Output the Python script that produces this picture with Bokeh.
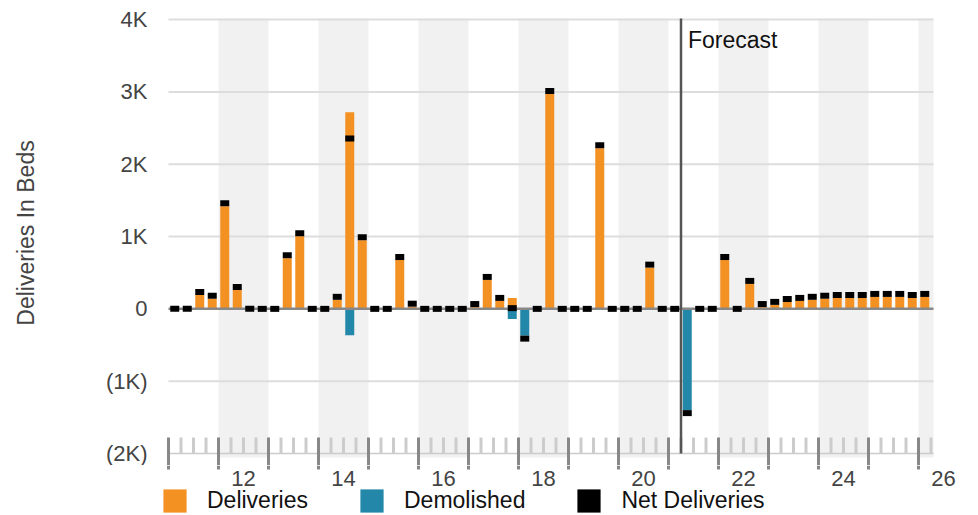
from bokeh.plotting import figure
from bokeh.layouts import column
from bokeh.models import (Range1d, FixedTicker, LinearAxis, Legend, LegendItem,
                          Label, ColumnDataSource)
from bokeh.core.properties import value
from bokeh.embed import file_html
from bokeh.resources import INLINE

# ---------------- data ----------------
years = list(range(2011, 2027))
quarters = [f"{y} Q{q}" for y in years for q in (1, 2, 3, 4)][:61]

deliveries = [0, 0, 190, 140, 1420, 260, 0, 0,
              0, 700, 1005, 0, 0, 125, 2720, 950,
              0, 0, 675, 30, 0, 0, 0, 0,
              25, 400, 110, 150, 0, 0, 2970, 0,
              0, 0, 2220, 0, 0, 0, 570, 0,
              0, 0, 0, 0, 675, 0, 345, 25,
              55, 95, 110, 125, 140, 150, 150, 150,
              165, 165, 165, 150, 165]
demolished = [0, 0, 0, 0, 0, 0, 0, 0,
              0, 0, 0, 0, 0, 0, -365, 0,
              0, 0, 0, 0, 0, 0, 0, 0,
              0, 0, 0, -140, -370, 0, 0, 0,
              0, 0, 0, 0, 0, 0, 0, 0,
              0, -1400, 0, 0, 0, 0, 0, 0,
              0, 0, 0, 0, 0, 0, 0, 0,
              0, 0, 0, 0, 0]
forecast_start = "2021 Q2"

y_ticks = [-2000, -1000, 0, 1000, 2000, 3000, 4000]
y_tick_labels = ["(2K)", "(1K)", "0", "1K", "2K", "3K", "4K"]
label_years = [2012, 2014, 2016, 2018, 2020, 2022, 2024, 2026]
year_labels = ["12", "14", "16", "18", "20", "22", "24", "26"]

# ---------------- layout constants ----------------
FONT = "Liberation Sans"
W, H = 978, 515
CHART_H = 435                    # px between the (2K) line and the 4K-area top
TOP_PAD_PX = 18                  # empty space above the chart area
SPLIT = 12                       # px of the main figure below the (2K) line
H1 = TOP_PAD_PX + CHART_H + SPLIT
H2 = H - H1
BL = 160
PX_PER_Q = 12.5                  # pixels per quarter
CHART_LEFT_PX = 8                # chart area starts 8px inside the frame
Y_AXIS_MIN, Y_TOP = -2000, 4015
upp = (Y_TOP - Y_AXIS_MIN) / CHART_H          # data units per pixel
Y_RANGE_TOP = Y_TOP + TOP_PAD_PX * upp
Y_RANGE_BOTTOM = Y_AXIS_MIN - SPLIT * upp
X_START = -CHART_LEFT_PX / PX_PER_Q
X_END = X_START + (W - BL) / PX_PER_Q
DATA_END = 61.2                  # right edge of the chart area (quarters)
TICK = 16                        # tick length in px

ORANGE = "#F39122"
BLUE = "#2287A8"

n = len(quarters)
xs = [i + 0.5 for i in range(n)]
net = [d + m for d, m in zip(deliveries, demolished)]
net_pos = []
for d, m, v in zip(deliveries, demolished, net):
    if d > 0 and m == 0:
        direction = 1
    elif d == 0 and m < 0:
        direction = -1
    else:
        direction = 0
    net_pos.append(v + direction * 3 * upp)

src = ColumnDataSource(dict(x=xs, q=quarters, deliveries=deliveries,
                            demolished=demolished, net=net, net_pos=net_pos))

x_range = Range1d(X_START, X_END)
p = figure(width=W, height=H1, x_range=x_range,
           y_range=Range1d(Y_RANGE_BOTTOM, Y_RANGE_TOP), output_backend="svg",
           toolbar_location=None, x_axis_location=None, y_axis_location=None,
           min_border_left=BL, min_border_right=0, min_border_top=0,
           min_border_bottom=0)
p.outline_line_color = None
for g in p.grid:
    g.visible = False

year_bounds = [(y - years[0]) * 4 for y in years if (y - years[0]) * 4 <= DATA_END]
quarter_bounds = [i for i in range(1, int(DATA_END) + 1) if i % 4]
band_left = [(y - years[0]) * 4 for y in label_years]
band_right = [min(b + 4, DATA_END) for b in band_left]
label_pos = [(y - years[0]) * 4 + 2 for y in label_years]

# shaded even-year bands
p.quad(left=band_left, right=band_right, bottom=Y_AXIS_MIN - 4 * upp, top=Y_TOP,
       fill_color="#F1F1F1", line_color=None)

# horizontal grid lines (chart area only)
grid_y = [t for t in y_ticks if t not in (Y_AXIS_MIN, 0)]
p.segment(x0=0, x1=DATA_END, y0=grid_y, y1=grid_y,
          line_color="#DDDDDD", line_width=2)

# x axis: base line, quarter ticks, year ticks
p.segment(x0=[0], x1=[DATA_END], y0=[Y_AXIS_MIN], y1=[Y_AXIS_MIN],
          line_color="#CCCCCC", line_width=1.5)
p.segment(x0=quarter_bounds, x1=quarter_bounds, y0=Y_AXIS_MIN,
          y1=Y_AXIS_MIN + TICK * upp, line_color="#CCCCCC", line_width=3)
p.segment(x0=year_bounds, x1=year_bounds, y0=Y_AXIS_MIN - TICK * upp,
          y1=Y_AXIS_MIN + TICK * upp, line_color="#888888", line_width=3)

# bars
r_del = p.vbar(x="x", width=0.72, top="deliveries", bottom=0, source=src,
               fill_color=ORANGE, line_color=None)
r_dem = p.vbar(x="x", width=0.72, top=0, bottom="demolished", source=src,
               fill_color=BLUE, line_color=None)
p.segment(x0=[0], x1=[DATA_END], y0=[0], y1=[0],
          line_color="#888888", line_width=2.5)
r_net = p.rect(x="x", y="net_pos", width=0.72, height=6, height_units="screen",
               source=src, fill_color="black", line_color=None)

# forecast marker
fx = quarters.index(forecast_start)
p.segment(x0=[fx], x1=[fx], y0=[Y_AXIS_MIN], y1=[Y_TOP],
          line_color="#555555", line_width=2.5)
p.add_layout(Label(x=fx, y=Y_TOP - 21 * upp, x_offset=7, text="Forecast",
                   text_font=FONT, text_font_size="23px", text_color="#111111",
                   text_baseline="middle"))

# y axis
yaxis = LinearAxis(ticker=FixedTicker(ticks=y_ticks),
                   major_label_overrides=dict(zip(y_ticks, y_tick_labels)),
                   axis_line_color=None, major_tick_line_color=None,
                   minor_tick_line_color=None, major_tick_in=0, major_tick_out=0,
                   major_label_standoff=13, major_label_text_font=FONT,
                   major_label_text_font_size="22px",
                   major_label_text_color="#444444",
                   axis_label="Deliveries In Beds", axis_label_text_font=FONT,
                   axis_label_text_font_size="23px",
                   axis_label_text_font_style="normal",
                   axis_label_text_color="#444444", axis_label_standoff=64)
p.add_layout(yaxis, "left")

# ---------------- strip below: rest of ticks, year labels, legend ----------------
p2 = figure(width=W, height=H2, x_range=x_range, y_range=Range1d(0, H2),
            output_backend="svg", toolbar_location=None,
            x_axis_location=None, y_axis_location=None,
            min_border_left=BL, min_border_right=0, min_border_top=0,
            min_border_bottom=0)
p2.outline_line_color = None
for g in p2.grid:
    g.visible = False
p2.segment(x0=year_bounds, x1=year_bounds, y0=H2, y1=H2 - (TICK - SPLIT),
           line_color="#888888", line_width=3)
p2.text(x=label_pos, y=H2 - (24.5 - SPLIT), text=year_labels,
        text_font=value(FONT), text_font_size="22px", text_color="#444444",
        text_align="center", text_baseline="middle")

# legend proxies (zero-size, so they draw nothing themselves)
l_del = p2.vbar(x="x", top="deliveries", bottom="deliveries", width=0, source=src,
                fill_color=ORANGE, line_color=None)
l_dem = p2.vbar(x="x", top="demolished", bottom="demolished", width=0, source=src,
                fill_color=BLUE, line_color=None)
l_net = p2.rect(x="x", y="net", width=0, height=0, source=src,
                fill_color="black", line_color=None)
legend = Legend(items=[LegendItem(label="Deliveries", renderers=[l_del]),
                       LegendItem(label="Demolished", renderers=[l_dem]),
                       LegendItem(label="Net Deliveries", renderers=[l_net])],
                orientation="horizontal", location=(0, 0),
                glyph_width=29, glyph_height=29, label_standoff=18, spacing=49,
                padding=0, margin=0, border_line_color=None,
                background_fill_alpha=0, label_text_font=FONT,
                label_text_font_size="23px", label_text_color="#111111")
p2.add_layout(legend, "center")

layout = column(p, p2, spacing=0)
open("out.html", "w").write(file_html(layout, INLINE))
